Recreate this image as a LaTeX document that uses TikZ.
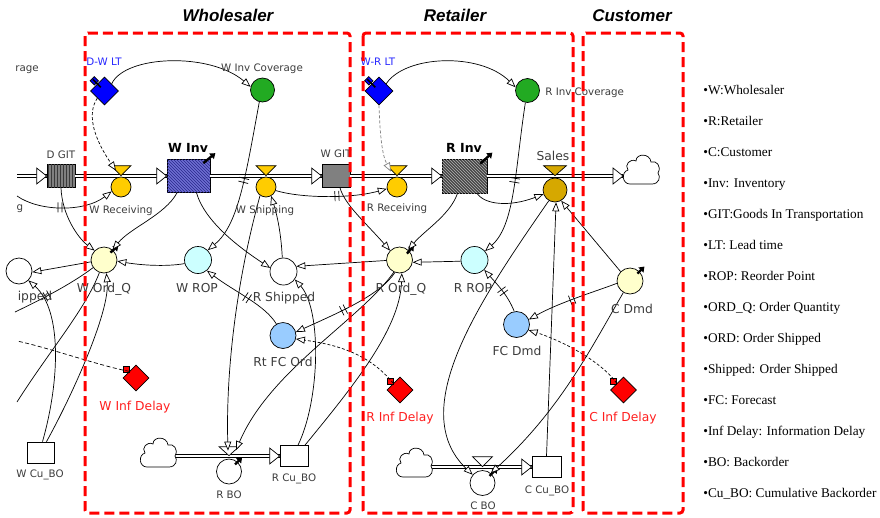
\documentclass[tikz,border=0pt]{standalone}
\usepackage{fontspec}
\setmainfont{Liberation Serif}
\newfontfamily\labfont{DejaVu Sans}
\newfontfamily\titfont{Liberation Sans}
\usetikzlibrary{arrows.meta,shapes.geometric,patterns,decorations.markings}

\definecolor{valveY}{RGB}{255,204,0}
\definecolor{salesY}{RGB}{214,168,0}
\definecolor{covG}{RGB}{34,170,34}
\definecolor{ordY}{RGB}{255,255,204}
\definecolor{ropC}{RGB}{204,255,255}
\definecolor{fcB}{RGB}{153,204,255}
\definecolor{gitG}{RGB}{128,128,128}
\definecolor{winvB}{RGB}{110,110,210}
\definecolor{winvL}{RGB}{40,40,140}
\definecolor{rinvD}{RGB}{70,70,70}
\definecolor{labG}{RGB}{60,60,60}
\definecolor{ltB}{RGB}{40,40,255}
\definecolor{dlyR}{RGB}{255,30,30}
\definecolor{boxR}{RGB}{255,0,0}

\tikzset{
  cloudpic/.pic={
    \draw[fill=white, line width=0.7pt] (-12,14) -- (10,14)
      .. controls (17,14) and (19,7) .. (16,3)
      .. controls (20,-4) and (14,-10) .. (9,-8)
      .. controls (8,-17) and (-6,-17) .. (-6,-9)
      .. controls (-12,-12) and (-18,-5) .. (-14,0)
      .. controls (-21,2) and (-20,14) .. (-12,14) -- cycle;
  }
}

\begin{document}
\begin{tikzpicture}[x=1pt, y=-1pt, line width=0.7pt,
  lbl/.style={font=\labfont\fontsize{12.3}{14}\selectfont, text=labG, inner sep=0pt, text height=9pt, text depth=0pt},
  slbl/.style={font=\labfont\fontsize{10.3}{12}\selectfont, text=labG, inner sep=0pt, text height=7.5pt, text depth=0pt},
  blbl/.style={font=\labfont\bfseries\fontsize{12.5}{14}\selectfont, text=black, inner sep=0pt, text height=9pt, text depth=0pt},
  title/.style={font=\titfont\bfseries\itshape\fontsize{17}{20}\selectfont, inner sep=0pt, text height=12pt, text depth=0pt},
  legend/.style={font=\fontsize{13.3}{15}\selectfont, anchor=west, inner sep=0pt, text height=8.8pt, text depth=0pt},
  aux/.style={circle, draw, inner sep=0pt, minimum size=26pt},
  valve/.style={circle, draw, inner sep=0pt, minimum size=20pt, fill=valveY},
  vtri/.style={draw, fill=valveY, line join=miter},
  stock/.style={rectangle, draw, inner sep=0pt},
  gvar/.style={diamond, draw, inner sep=0pt, minimum size=28pt},
  tabst/.style={draw, inner sep=0pt, minimum size=6pt},
  link/.style={draw, -{Triangle[length=9pt,width=7pt,fill=white]}},
  dlink/.style={link, dash pattern=on 3pt off 2pt},
  pipe/.style={draw, double=white, double distance=2.6pt, line width=0.6pt},
  fhead/.style={draw, fill=white, line join=miter},
  initarr/.style={line width=2.4pt, -{Triangle[length=5pt,width=7pt]}},
  dly/.style={postaction={decorate, decoration={markings,
      mark=at position #1 with {\draw[line width=0.7pt,-] (-2,-5) -- (-2,5) (2,-5) -- (2,5);}}}},
  redbox/.style={draw=boxR, line width=3pt, dash pattern=on 10pt off 5pt, rounded corners=3pt}
]
\useasboundingbox (0,0) rectangle (880,517);

% ---------- stocks ----------
\node[stock, minimum width=28pt, minimum height=23pt, fill=gitG,
      postaction={pattern=vertical lines, pattern color=gitG!45!black}] (dgit) at (61,176) {};
\node[stock, minimum width=43pt, minimum height=33pt, fill=winvB,
      postaction={pattern=north west lines, pattern color=winvL}] (winv) at (188.5,176) {};
\node[stock, minimum width=28pt, minimum height=23pt, fill=gitG] (wgit) at (336,176) {};
\node[stock, minimum width=45pt, minimum height=34pt, fill=rinvD,
      postaction={pattern=north west lines, pattern color=white!70!black}] (rinv) at (464.5,176) {};
\node[stock, minimum width=27pt, minimum height=21pt, fill=white] (wcubo) at (40.5,452.5) {};
\node[stock, minimum width=28pt, minimum height=21pt, fill=white] (rcubo) at (294,456) {};
\node[stock, minimum width=29pt, minimum height=21pt, fill=white] (ccubo) at (546.5,467) {};

% ---------- pipe ends ----------
\coordinate (srcL) at (17,176);
\coordinate (cl1) at (623,176);
\coordinate (cl2) at (175,456);
\coordinate (cl3) at (431,467);

% ---------- pipes ----------
\draw[pipe] (srcL) -- (dgit.west);
\draw[pipe] (dgit.east) -- (winv.west);
\draw[pipe] (winv.east) -- (wgit.west);
\draw[pipe] (wgit.east) -- (rinv.west);
\draw[pipe] (rinv.east) -- (cl1);
\draw[pipe] (cl2) -- (rcubo.west);
\draw[pipe] (cl3) -- (ccubo.west);

\draw[fhead] (dgit.west) -- ++(-10,-8) -- ++(0,16) -- cycle;
\draw[fhead] (winv.west) -- ++(-10,-8) -- ++(0,16) -- cycle;
\draw[fhead] (wgit.west) -- ++(-10,-8) -- ++(0,16) -- cycle;
\draw[fhead] (rinv.west) -- ++(-10,-8) -- ++(0,16) -- cycle;
\draw[fhead] (cl1) -- ++(-10,-8) -- ++(0,16) -- cycle;
\draw[fhead] (rcubo.west) -- ++(-10,-8) -- ++(0,16) -- cycle;
\draw[fhead] (ccubo.west) -- ++(-10,-8) -- ++(0,16) -- cycle;

\pic at (642,170) {cloudpic};
\pic at (159,453) {cloudpic};
\pic at (415,463) {cloudpic};

% ---------- valves ----------
\node[valve] (wrcv) at (121,187) {};
\draw[vtri] ([yshift=1pt]wrcv.north) -- ++(-10,-10) -- ++(20,0) -- cycle;
\node[valve] (wshp) at (266,187) {};
\draw[vtri] ([yshift=1pt]wshp.north) -- ++(-10,-10) -- ++(20,0) -- cycle;
\node[valve] (rrcv) at (397,187) {};
\draw[vtri] ([yshift=1pt]rrcv.north) -- ++(-10,-10) -- ++(20,0) -- cycle;
\node[valve, minimum size=24pt, fill=salesY] (sales) at (555,190) {};
\draw[vtri, fill=salesY] ([yshift=2pt]sales.north) -- ++(-11.5,-10) -- ++(23,0) -- cycle;
\node[valve, minimum size=25pt, fill=white] (rbo) at (229,471.5) {};
\draw[vtri, fill=white] ([yshift=3pt]rbo.north) -- ++(-10,-9) -- ++(20,0) -- cycle;
\node[valve, minimum size=25pt, fill=white] (cbo) at (482.5,483) {};
\draw[vtri, fill=white] ([yshift=3.5pt]cbo.north) -- ++(-10,-10) -- ++(20,0) -- cycle;

% ---------- auxiliaries ----------
\node[aux, fill=covG, minimum size=24pt] (wcov) at (262.5,90) {};
\node[aux, fill=covG, minimum size=24pt] (rcov) at (527.5,90.5) {};
\node[aux, fill=ordY] (wordq) at (104,260) {};
\node[aux, fill=white] (ipped) at (19,271) {};
\node[aux, fill=ropC, minimum size=27pt] (wrop) at (198,260) {};
\node[aux, fill=white, minimum size=27pt] (rshp) at (283.5,271.5) {};
\node[aux, fill=fcB] (rtfc) at (283,335.5) {};
\node[aux, fill=ordY] (rordq) at (399.5,260) {};
\node[aux, fill=ropC, minimum size=27pt] (rrop) at (474.5,260) {};
\node[aux, fill=fcB] (fcdmd) at (516.5,324.5) {};
\node[aux, fill=ordY] (cdmd) at (630,281) {};

% ---------- lead times and information delays ----------
\node[gvar, fill=blue] (dwlt) at (104.5,91) {};
\node[tabst, fill=blue, rotate=45] (dwlt-tab) at ([xshift=-3pt,yshift=3pt]dwlt.north west) {};
\draw[line width=1.5pt] ([xshift=-4.5pt,yshift=4.5pt]dwlt.north west) -- ([xshift=3.5pt,yshift=-3.5pt]dwlt.north west);
\node[gvar, fill=blue] (wrlt) at (379,91) {};
\node[tabst, fill=blue, rotate=45] (wrlt-tab) at ([xshift=-3pt,yshift=3pt]wrlt.north west) {};
\draw[line width=1.5pt] ([xshift=-4.5pt,yshift=4.5pt]wrlt.north west) -- ([xshift=3.5pt,yshift=-3.5pt]wrlt.north west);
\node[gvar, fill=red, minimum size=26pt] (winfd) at (136,378) {};
\node[tabst, fill=red] (winfd-tab) at ([xshift=-3pt,yshift=2pt]winfd.north west) {};
\node[gvar, fill=red, minimum size=26pt] (rinfd) at (400,390) {};
\node[tabst, fill=red] (rinfd-tab) at ([xshift=-3pt,yshift=2pt]rinfd.north west) {};
\node[gvar, fill=red, minimum size=26pt] (cinfd) at (623.5,390) {};
\node[tabst, fill=red] (cinfd-tab) at ([xshift=-3pt,yshift=2pt]cinfd.north west) {};

% ---------- initial value markers ----------
\draw[initarr] ([xshift=-7pt,yshift=-4pt]winv.north east) -- ++(12,-10);
\draw[initarr] ([xshift=-7pt,yshift=-5pt]rinv.north east) -- ++(12,-11);
\draw[initarr] ([xshift=-3pt,yshift=-2pt]wordq.45) -- ++(8,-7);
\draw[initarr] ([xshift=-2pt,yshift=-3pt]rordq.45) -- ++(7,-8);
\draw[initarr] ([xshift=-3pt,yshift=-2pt]rbo.45) -- ++(7,-7);
\draw[initarr] ([xshift=-2pt,yshift=-2pt]cbo.45) -- ++(8,-8);
\draw[initarr] ([xshift=-2pt,yshift=-2pt]cdmd.45) -- ++(7,-7);

% ---------- off-page ends ----------
\coordinate (srcG) at (17,196);
\coordinate (wbo) at (17,402);
\coordinate (wfc) at (15,312);
\coordinate (wdl) at (17,341);

% ---------- information links ----------
\draw[link] (dwlt.north east) .. controls (125,55) and (210,52) .. (wcov.165);
\draw[dlink] (dwlt.south west) .. controls (86,115) and (95,140) .. ([xshift=-5pt,yshift=6pt]wrcv.north);
\draw[link, dly=0.5] (wcov.255) .. controls (245,180) and (238,225) .. (wrop.45);
\draw[link] (wshp.235) .. controls (234,290) and (226,380) .. ([xshift=-1pt,yshift=8pt]rbo.north);
\draw[link] ([xshift=-11.5pt]winv.south) .. controls (165,215) and (130,228) .. (wordq.50);
\draw[link] ([xshift=8pt]winv.south) .. controls (205,222) and (240,248) .. (rshp.165);
\draw[link] (rshp.95) .. controls (281,232) and (277,215) .. (wshp.-60);
\draw[link] (rordq.182) -- (rshp.22);
\draw[link] ([xshift=4pt]rcubo.north) .. controls (320,400) and (322,310) .. (rshp.-35);
\draw[link] (wrop.195) .. controls (165,267) and (140,265) .. (wordq.-5);
\draw[link] (wordq.188) -- (ipped.-5);
\draw[link, dly=0.45] (srcG) .. controls (40,212) and (85,212) .. (wrcv.205);
\draw[link] (dgit.south) .. controls (62,215) and (78,238) .. (wordq.135);
\draw[link] ([xshift=6pt]wcubo.north) .. controls (75,390) and (110,310) .. (wordq.-80);
\draw[link] ([xshift=2pt]wcubo.north) .. controls (60,380) and (62,310) .. (ipped.-45);
\draw (wordq.-110) .. controls (85,310) and (50,350) .. (wbo);
\draw[dly=0.6] (wordq.215) .. controls (70,285) and (40,300) .. (wfc);
\draw[dash pattern=on 4pt off 2.5pt] (winfd.north west) .. controls (100,366) and (50,348) .. (wdl);
\draw[link, dly=0.45] (rtfc.120) .. controls (265,305) and (235,292) .. (wrop.-50);
\draw[link, dly=0.55] (rordq.-110) .. controls (380,295) and (340,312) .. (rtfc.15);
\draw[link] (rordq.-115) .. controls (360,320) and (270,370) .. ([xshift=7pt,yshift=8.5pt]rbo.north);
\draw[link] ([xshift=11pt]rcubo.north) .. controls (350,390) and (400,330) .. (rordq.-80);
\draw[dlink] (rinfd.north west) .. controls (370,355) and (340,345) .. (rtfc.-15);
\draw[link] (wrlt.north east) .. controls (405,55) and (480,52) .. (rcov.165);
\draw[dlink, draw=gray] (wrlt.south) .. controls (380,135) and (382,155) .. ([xshift=-6pt,yshift=5pt]rrcv.north);
\draw[link, dly=0.5] (rcov.-100) .. controls (515,170) and (515,225) .. (rrop.40);
\draw[link, dly=0.55] (wshp.-20) .. controls (300,198) and (350,199) .. (rrcv.190);
\draw[link] ([xshift=4pt]wgit.south) .. controls (345,205) and (365,222) .. (rordq.135);
\draw[link] ([xshift=-7pt]rinv.south) .. controls (450,215) and (425,230) .. (rordq.50);
\draw[link] ([xshift=12.5pt]rinv.south) .. controls (485,205) and (510,207) .. (sales.200);
\draw[link] (rrop.185) -- (rordq.-10);
\draw[link, dly=0.45] (fcdmd.100) .. controls (508,295) and (495,282) .. (rrop.-45);
\draw[link, dly=0.5] (cdmd.190) .. controls (600,290) and (560,302) .. (fcdmd.22);
\draw[dlink] (cinfd.north west) .. controls (600,360) and (560,340) .. (fcdmd.-25);
\draw[link] (cdmd.135) -- (sales.-60);
\draw[link] (ccubo.north) -- (sales.-85);
\draw[link] (sales.-120) .. controls (480,300) and (405,410) .. (cbo.140);
\draw[link] (cdmd.-120) .. controls (590,350) and (560,410) .. (cbo.50);

% ---------- variable names ----------
\node[slbl, anchor=west] (t-rage) at (15,68) {rage};
\node[slbl, text=ltB] (t-dwlt) at (104,62) {D-W LT};
\node[slbl] (t-wcov) at (262,68) {W Inv Coverage};
\node[slbl, text=ltB] (t-wrlt) at (378,62) {W-R LT};
\node[slbl, anchor=west] (t-rcov) at (545,92) {R Inv Coverage};
\node[slbl] (t-dgit) at (61,155) {D GIT};
\node[blbl] (t-winv) at (188,148) {W Inv};
\node[slbl] (t-wgit) at (336,154) {W GIT};
\node[blbl] (t-rinv) at (464,148) {R Inv};
\node[lbl] (t-sales) at (553,156) {Sales};
\node[slbl] (t-wrcv) at (121,210) {W Receiving};
\node[slbl] (t-wshp) at (265,210) {W Shipping};
\node[slbl] (t-rrcv) at (397,208) {R Receiving};
\node[slbl] (t-g) at (20,207) {g};
\node[lbl] (t-wordq) at (104,288) {W Ord\_Q};
\node[lbl] (t-ipped) at (35,296) {ipped};
\node[lbl] (t-wrop) at (197,288) {W ROP};
\node[lbl] (t-rshp) at (284,297) {R Shipped};
\node[lbl] (t-rtfc) at (283,362) {Rt FC Ord};
\node[lbl] (t-rordq) at (401,288) {R Ord\_Q};
\node[lbl] (t-rrop) at (473,288) {R ROP};
\node[lbl] (t-fcdmd) at (517,351) {FC Dmd};
\node[lbl] (t-cdmd) at (632,309) {C Dmd};
\node[lbl, text=dlyR] (t-winfd) at (135,406) {W Inf Delay};
\node[lbl, text=dlyR] (t-rinfd) at (400,417) {R Inf Delay};
\node[lbl, text=dlyR] (t-cinfd) at (623,417) {C Inf Delay};
\node[slbl] (t-wcubo) at (40,474) {W Cu\_BO};
\node[slbl] (t-rbo) at (229,495) {R BO};
\node[slbl] (t-rcubo) at (294,478) {R Cu\_BO};
\node[slbl] (t-cbo) at (483,506) {C BO};
\node[slbl] (t-ccubo) at (547,490) {C Cu\_BO};

% ---------- sector frames ----------
\draw[redbox] (85,33) rectangle (350,513);
\draw[redbox] (363,33) rectangle (573,513);
\draw[redbox] (583,33) rectangle (683,513);
\node[title] (t-whole) at (228,15) {Wholesaler};
\node[title] (t-ret) at (455,15) {Retailer};
\node[title] (t-cust) at (632,15) {Customer};

% ---------- abbreviations ----------
\node[legend] (lg1) at (703,90) {•W:Wholesaler};
\node[legend] (lg2) at (703,121) {•R:Retailer};
\node[legend] (lg3) at (703,152) {•C:Customer};
\node[legend] (lg4) at (703,183) {•Inv: Inventory};
\node[legend] (lg5) at (703,214) {•GIT:Goods In Transportation};
\node[legend] (lg6) at (703,245) {•LT: Lead time};
\node[legend] (lg7) at (703,276) {•ROP: Reorder Point};
\node[legend] (lg8) at (703,307) {•ORD\_Q: Order Quantity};
\node[legend] (lg9) at (703,338) {•ORD: Order Shipped};
\node[legend] (lg10) at (703,369) {•Shipped: Order Shipped};
\node[legend] (lg11) at (703,400) {•FC: Forecast};
\node[legend] (lg12) at (703,431) {•Inf Delay: Information Delay};
\node[legend] (lg13) at (703,462) {•BO: Backorder};
\node[legend] (lg14) at (703,493) {•Cu\_BO: Cumulative Backorder};
\end{tikzpicture}
\end{document}
